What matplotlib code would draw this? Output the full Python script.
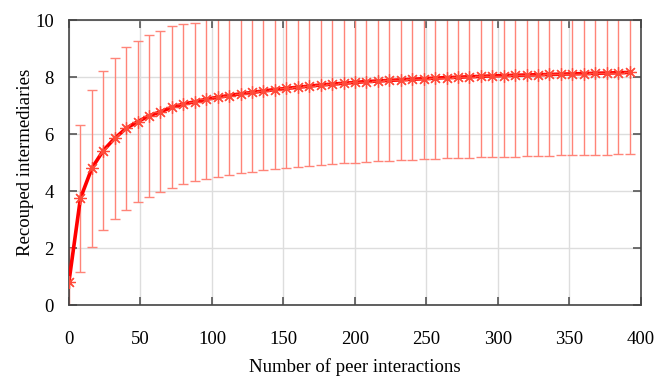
import numpy as np
import matplotlib
matplotlib.use("Agg")
import matplotlib.pyplot as plt

plt.rcParams["font.family"] = ["Liberation Serif", "DejaVu Serif"]

# peer interactions (x), mean recouped intermediaries and lower end of the error bar
interactions = list(range(0, 400, 8))
mean_vals = [0.82, 3.74, 4.80, 5.42, 5.85, 6.20, 6.43, 6.64, 6.78, 6.94,
             7.05, 7.13, 7.22, 7.29, 7.35, 7.41, 7.46, 7.51, 7.56, 7.60,
             7.64, 7.68, 7.72, 7.75, 7.78, 7.81, 7.84, 7.86, 7.88, 7.90,
             7.92, 7.94, 7.96, 7.98, 7.99, 8.01, 8.02, 8.04, 8.05, 8.06,
             8.07, 8.08, 8.09, 8.10, 8.11, 8.12, 8.13, 8.14, 8.15, 8.16]
lower_vals = [-0.36, 1.17, 2.05, 2.63, 3.02, 3.33, 3.60, 3.80, 3.95, 4.09,
              4.25, 4.35, 4.42, 4.50, 4.57, 4.63, 4.68, 4.73, 4.77, 4.81,
              4.85, 4.88, 4.92, 4.95, 4.98, 5.00, 5.02, 5.04, 5.06, 5.08,
              5.10, 5.12, 5.13, 5.15, 5.16, 5.17, 5.18, 5.19, 5.20, 5.21,
              5.22, 5.23, 5.24, 5.25, 5.26, 5.27, 5.27, 5.28, 5.29, 5.30]

x = np.array(interactions)
y = np.array(mean_vals)
err = y - np.array(lower_vals)

fig = plt.figure(figsize=(6.67, 3.76), dpi=100)
ax = fig.add_axes([0.1034, 0.1888, 0.8576, 0.758])

ax.errorbar(x, y, yerr=err, fmt="none", ecolor="#ff8478", elinewidth=1.0,
            capsize=3.5, capthick=1.0, zorder=2)
ax.plot(x, y, color="#ff0000", lw=2.6, zorder=3)
ax.plot(x, y, ls="none", marker=(8, 2, 0), ms=9, mew=0.9,
        color="#ff4a3a", zorder=4)

ax.set_xlim(0, 400)
ax.set_ylim(0, 10)
ax.set_xticks(range(0, 401, 50))
ax.set_yticks(range(0, 11, 2))
ax.grid(True, color="#dddddd", lw=1.0, zorder=0)
ax.set_axisbelow(True)

ax.tick_params(direction="in", length=6, width=1.2, color="#555555",
               top=True, right=True, labelsize=13.5)
ax.tick_params(axis="x", pad=19)
ax.tick_params(axis="y", pad=11)
for s in ax.spines.values():
    s.set_color("#444444")
    s.set_linewidth(1.2)

ax.set_xlabel("Number of peer interactions", fontsize=13.5, labelpad=7)
ax.set_ylabel("Recouped intermediaries", fontsize=13.5, labelpad=1)

fig.savefig("out.png", dpi=100)
